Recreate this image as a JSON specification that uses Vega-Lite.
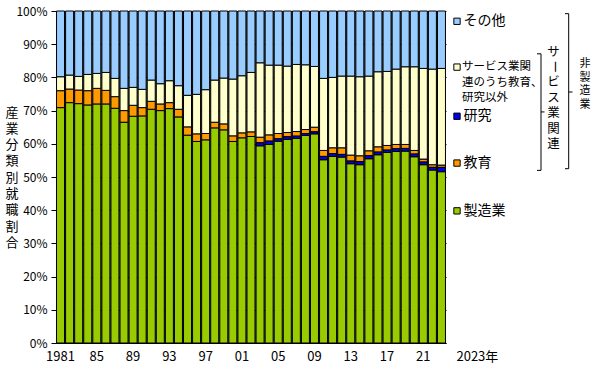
{
  "$schema": "https://vega.github.io/schema/vega-lite/v6.json",
  "padding": {"left": 5, "top": 5, "right": 0, "bottom": 5},
  "bounds": "flush",
  "spacing": 0,
  "config": {
    "font": "Noto Sans CJK JP",
    "view": {"stroke": null}
  },
  "datasets": {
    "shares": [
      {"year": 1981, "製造業": 70.9, "教育": 5.1, "サービス業関連のうち教育、研究以外": 4.2, "その他": 19.8},
      {"year": 1982, "製造業": 72.4, "教育": 4.1, "サービス業関連のうち教育、研究以外": 4.2, "その他": 19.3},
      {"year": 1983, "製造業": 72.1, "教育": 4.1, "サービス業関連のうち教育、研究以外": 4.1, "その他": 19.7},
      {"year": 1984, "製造業": 71.7, "教育": 4.3, "サービス業関連のうち教育、研究以外": 4.9, "その他": 19.1},
      {"year": 1985, "製造業": 72.0, "教育": 4.7, "サービス業関連のうち教育、研究以外": 4.5, "その他": 18.8},
      {"year": 1986, "製造業": 72.0, "教育": 4.1, "サービス業関連のうち教育、研究以外": 5.4, "その他": 18.5},
      {"year": 1987, "製造業": 70.7, "教育": 3.5, "サービス業関連のうち教育、研究以外": 5.5, "その他": 20.3},
      {"year": 1988, "製造業": 66.5, "教育": 3.5, "サービス業関連のうち教育、研究以外": 6.7, "その他": 23.3},
      {"year": 1989, "製造業": 68.3, "教育": 3.3, "サービス業関連のうち教育、研究以外": 5.4, "その他": 23.0},
      {"year": 1990, "製造業": 68.4, "教育": 2.5, "サービス業関連のうち教育、研究以外": 5.5, "その他": 23.6},
      {"year": 1991, "製造業": 70.4, "教育": 2.4, "サービス業関連のうち教育、研究以外": 6.4, "その他": 20.8},
      {"year": 1992, "製造業": 70.0, "教育": 2.0, "サービス業関連のうち教育、研究以外": 6.1, "その他": 21.9},
      {"year": 1993, "製造業": 70.6, "教育": 1.8, "サービス業関連のうち教育、研究以外": 6.6, "その他": 21.0},
      {"year": 1994, "製造業": 68.1, "教育": 2.3, "サービス業関連のうち教育、研究以外": 7.1, "その他": 22.5},
      {"year": 1995, "製造業": 62.6, "教育": 2.5, "サービス業関連のうち教育、研究以外": 9.5, "その他": 25.4},
      {"year": 1996, "製造業": 60.7, "教育": 2.3, "サービス業関連のうち教育、研究以外": 11.9, "その他": 25.1},
      {"year": 1997, "製造業": 61.2, "教育": 1.9, "サービス業関連のうち教育、研究以外": 13.2, "その他": 23.7},
      {"year": 1998, "製造業": 64.8, "教育": 1.7, "サービス業関連のうち教育、研究以外": 12.7, "その他": 20.8},
      {"year": 1999, "製造業": 64.2, "教育": 1.8, "サービス業関連のうち教育、研究以外": 13.8, "その他": 20.2},
      {"year": 2000, "製造業": 60.7, "教育": 1.7, "サービス業関連のうち教育、研究以外": 17.1, "その他": 20.5},
      {"year": 2001, "製造業": 61.8, "教育": 1.5, "サービス業関連のうち教育、研究以外": 17.2, "その他": 19.5},
      {"year": 2002, "製造業": 62.2, "教育": 1.4, "サービス業関連のうち教育、研究以外": 17.9, "その他": 18.5},
      {"year": 2003, "製造業": 59.4, "教育": 1.7, "研究": 0.9, "サービス業関連のうち教育、研究以外": 22.4, "その他": 15.6},
      {"year": 2004, "製造業": 59.8, "教育": 1.9, "研究": 1.0, "サービス業関連のうち教育、研究以外": 21.0, "その他": 16.3},
      {"year": 2005, "製造業": 60.8, "教育": 1.6, "研究": 0.7, "サービス業関連のうち教育、研究以外": 20.6, "その他": 16.3},
      {"year": 2006, "製造業": 61.3, "教育": 1.3, "研究": 0.8, "サービス業関連のうち教育、研究以外": 20.0, "その他": 16.6},
      {"year": 2007, "製造業": 61.6, "教育": 1.4, "研究": 0.7, "サービス業関連のうち教育、研究以外": 20.2, "その他": 16.1},
      {"year": 2008, "製造業": 62.5, "教育": 1.2, "研究": 0.6, "サービス業関連のうち教育、研究以外": 19.5, "その他": 16.2},
      {"year": 2009, "製造業": 63.0, "教育": 1.4, "研究": 0.6, "サービス業関連のうち教育、研究以外": 18.3, "その他": 16.7},
      {"year": 2010, "製造業": 55.2, "教育": 1.8, "研究": 1.0, "サービス業関連のうち教育、研究以外": 21.7, "その他": 20.3},
      {"year": 2011, "製造業": 56.2, "教育": 1.8, "研究": 0.8, "サービス業関連のうち教育、研究以外": 21.2, "その他": 20.0},
      {"year": 2012, "製造業": 56.0, "教育": 2.0, "研究": 0.8, "サービス業関連のうち教育、研究以外": 21.6, "その他": 19.6},
      {"year": 2013, "製造業": 54.0, "教育": 1.8, "研究": 0.8, "サービス業関連のうち教育、研究以外": 23.8, "その他": 19.6},
      {"year": 2014, "製造業": 53.7, "教育": 1.8, "研究": 0.9, "サービス業関連のうち教育、研究以外": 23.8, "その他": 19.8},
      {"year": 2015, "製造業": 55.5, "教育": 1.5, "研究": 0.9, "サービス業関連のうち教育、研究以外": 22.5, "その他": 19.6},
      {"year": 2016, "製造業": 56.7, "教育": 1.6, "研究": 0.8, "サービス業関連のうち教育、研究以外": 22.6, "その他": 18.3},
      {"year": 2017, "製造業": 57.4, "教育": 1.4, "研究": 0.7, "サービス業関連のうち教育、研究以外": 22.3, "その他": 18.2},
      {"year": 2018, "製造業": 57.7, "教育": 1.3, "研究": 0.8, "サービス業関連のうち教育、研究以外": 22.7, "その他": 17.5},
      {"year": 2019, "製造業": 57.8, "教育": 1.2, "研究": 0.8, "サービス業関連のうち教育、研究以外": 23.4, "その他": 16.8},
      {"year": 2020, "製造業": 56.1, "教育": 1.1, "研究": 0.8, "サービス業関連のうち教育、研究以外": 25.2, "その他": 16.8},
      {"year": 2021, "製造業": 53.7, "教育": 0.9, "研究": 0.8, "サービス業関連のうち教育、研究以外": 27.3, "その他": 17.3},
      {"year": 2022, "製造業": 52.1, "教育": 0.8, "研究": 0.8, "サービス業関連のうち教育、研究以外": 28.8, "その他": 17.5},
      {"year": 2023, "製造業": 51.6, "教育": 0.7, "研究": 1.3, "サービス業関連のうち教育、研究以外": 29.1, "その他": 17.3}
    ],
    "legendKeys": [
      {"category": "その他", "ly": 96.9},
      {"category": "サービス業関連のうち教育、研究以外", "ly": 83.1},
      {"category": "研究", "ly": 68.3},
      {"category": "教育", "ly": 54.2},
      {"category": "製造業", "ly": 39.8}
    ],
    "legendLines": [
      {"line": "サービス業関", "ly": 83.1},
      {"line": "連のうち教育、", "ly": 78.4},
      {"line": "研究以外", "ly": 73.8}
    ],
    "braces": [
      {"x1": 95, "x2": 95, "y1": 87.1, "y2": 52.0},
      {"x1": 91, "x2": 95, "y1": 87.1, "y2": 87.1},
      {"x1": 91, "x2": 95, "y1": 52.0, "y2": 52.0},
      {"x1": 95, "x2": 98.5, "y1": 69.6, "y2": 69.6},
      {"x1": 122.7, "x2": 122.7, "y1": 99.2, "y2": 52.5},
      {"x1": 119, "x2": 122.7, "y1": 99.2, "y2": 99.2},
      {"x1": 119, "x2": 122.7, "y1": 52.5, "y2": 52.5},
      {"x1": 122.7, "x2": 126.5, "y1": 75.6, "y2": 75.6}
    ],
    "vertText": [
      {"group": "サービス業関連", "ch": "サ", "cx": 107.5, "cy": 87.8},
      {"group": "サービス業関連", "ch": "ー", "cx": 107.5, "cy": 83.2},
      {"group": "サービス業関連", "ch": "ビ", "cx": 107.5, "cy": 78.5},
      {"group": "サービス業関連", "ch": "ス", "cx": 107.5, "cy": 73.8},
      {"group": "サービス業関連", "ch": "業", "cx": 107.5, "cy": 69.2},
      {"group": "サービス業関連", "ch": "関", "cx": 107.5, "cy": 64.5},
      {"group": "サービス業関連", "ch": "連", "cx": 107.5, "cy": 59.8},
      {"group": "非製造業", "ch": "非", "cx": 139, "cy": 84.0},
      {"group": "非製造業", "ch": "製", "cx": 139, "cy": 79.9},
      {"group": "非製造業", "ch": "造", "cx": 139, "cy": 75.8},
      {"group": "非製造業", "ch": "業", "cx": 139, "cy": 71.7}
    ]
  },
  "hconcat": [
    {
      "width": 390,
      "height": 332,
      "view": {"fill": "#5a5a5a", "stroke": null},
      "data": {"name": "shares"},
      "transform": [
        {"fold": ["製造業", "教育", "研究", "サービス業関連のうち教育、研究以外", "その他"], "as": ["category", "share"]},
        {"filter": "isValid(datum.share)"}
      ],
      "mark": {"type": "bar", "stroke": "#000000", "strokeWidth": 1},
      "encoding": {
        "x": {
          "field": "year",
          "type": "ordinal",
          "scale": {"paddingInner": 0.12, "paddingOuter": 0.06},
          "axis": {
            "title": null,
            "labelAngle": 0,
            "ticks": false,
            "tickSize": 0,
            "labelPadding": 7,
            "labelFontSize": 13,
            "labelColor": "#000000",
            "domainColor": "#000000",
            "labelOverlap": false,
            "labelExpr": "datum.value == 1981 ? '1981' : datum.value == 2023 ? '2023年' : ((datum.value - 1981) % 4 == 0 ? slice(toString(datum.value), 2) : '')",
            "labelAlign": {"condition": {"test": "datum.value == 2023", "value": "left"}, "value": "center"},
            "labelOffset": {"condition": {"test": "datum.value == 2023", "value": 15}, "value": 0}
          }
        },
        "y": {
          "field": "share",
          "type": "quantitative",
          "stack": "zero",
          "scale": {"domain": [0, 100], "nice": false},
          "axis": {
            "title": ["産", "業", "分", "類", "別", "就", "職", "割", "合"],
            "titleAngle": 0,
            "titleAlign": "left",
            "titleBaseline": "top",
            "titleX": -51,
            "titleY": 95,
            "titleFontSize": 13,
            "titleFontWeight": "normal",
            "titleLineHeight": 16.3,
            "titleColor": "#000000",
            "values": [0, 10, 20, 30, 40, 50, 60, 70, 80, 90, 100],
            "labelExpr": "datum.value + '%'",
            "labelFontSize": 12,
            "labelColor": "#000000",
            "tickColor": "#000000",
            "tickSize": 5,
            "labelPadding": 4,
            "domainColor": "#000000",
            "grid": true,
            "gridColor": "#000000",
            "gridWidth": 1
          }
        },
        "color": {
          "field": "category",
          "type": "nominal",
          "sort": ["製造業", "教育", "研究", "サービス業関連のうち教育、研究以外", "その他"],
          "scale": {
            "domain": ["製造業", "教育", "研究", "サービス業関連のうち教育、研究以外", "その他"],
            "range": ["#99CC00", "#FF9900", "#0000EE", "#FFFFCC", "#99CCFF"]
          },
          "legend": null
        }
      }
    },
    {
      "width": 150,
      "height": 332,
      "view": {"stroke": null},
      "layer": [
        {
          "data": {"name": "braces"},
          "mark": {"type": "rule", "color": "#000000", "strokeWidth": 1},
          "encoding": {
            "x": {"field": "x1", "type": "quantitative", "scale": {"domain": [0, 150], "nice": false}, "axis": null},
            "x2": {"field": "x2"},
            "y": {"field": "y1", "type": "quantitative", "scale": {"domain": [0, 100], "nice": false}, "axis": null},
            "y2": {"field": "y2"}
          }
        },
        {
          "data": {"name": "legendKeys"},
          "mark": {"type": "square", "size": 40, "filled": true, "opacity": 1, "stroke": "#000000", "strokeWidth": 1},
          "encoding": {
            "x": {"datum": 11, "type": "quantitative"},
            "y": {"field": "ly", "type": "quantitative"},
            "color": {
              "field": "category",
              "type": "nominal",
              "scale": {
                "domain": ["製造業", "教育", "研究", "サービス業関連のうち教育、研究以外", "その他"],
                "range": ["#99CC00", "#FF9900", "#0000EE", "#FFFFCC", "#99CCFF"]
              },
              "legend": null
            }
          }
        },
        {
          "data": {"name": "legendKeys"},
          "transform": [{"filter": "datum.category != 'サービス業関連のうち教育、研究以外'"}],
          "mark": {"type": "text", "align": "left", "baseline": "middle", "fontSize": 14, "color": "#000000"},
          "encoding": {
            "x": {"datum": 17.5, "type": "quantitative"},
            "y": {"field": "ly", "type": "quantitative"},
            "text": {"field": "category"}
          }
        },
        {
          "data": {"name": "legendLines"},
          "mark": {"type": "text", "align": "left", "baseline": "middle", "fontSize": 11.5, "color": "#000000"},
          "encoding": {
            "x": {"datum": 16, "type": "quantitative"},
            "y": {"field": "ly", "type": "quantitative"},
            "text": {"field": "line"}
          }
        },
        {
          "data": {"name": "vertText"},
          "transform": [{"filter": "datum.group == 'サービス業関連' && datum.ch != 'ー'"}],
          "mark": {"type": "text", "align": "center", "baseline": "middle", "fontSize": 12.5, "color": "#000000"},
          "encoding": {
            "x": {"field": "cx", "type": "quantitative"},
            "y": {"field": "cy", "type": "quantitative"},
            "text": {"field": "ch"}
          }
        },
        {
          "data": {"name": "vertText"},
          "transform": [{"filter": "datum.ch == 'ー'"}],
          "mark": {"type": "text", "align": "center", "baseline": "middle", "fontSize": 12.5, "angle": 90, "color": "#000000"},
          "encoding": {
            "x": {"field": "cx", "type": "quantitative"},
            "y": {"field": "cy", "type": "quantitative"},
            "text": {"field": "ch"}
          }
        },
        {
          "data": {"name": "vertText"},
          "transform": [{"filter": "datum.group == '非製造業'"}],
          "mark": {"type": "text", "align": "center", "baseline": "middle", "fontSize": 11, "color": "#000000"},
          "encoding": {
            "x": {"field": "cx", "type": "quantitative"},
            "y": {"field": "cy", "type": "quantitative"},
            "text": {"field": "ch"}
          }
        }
      ]
    }
  ]
}
